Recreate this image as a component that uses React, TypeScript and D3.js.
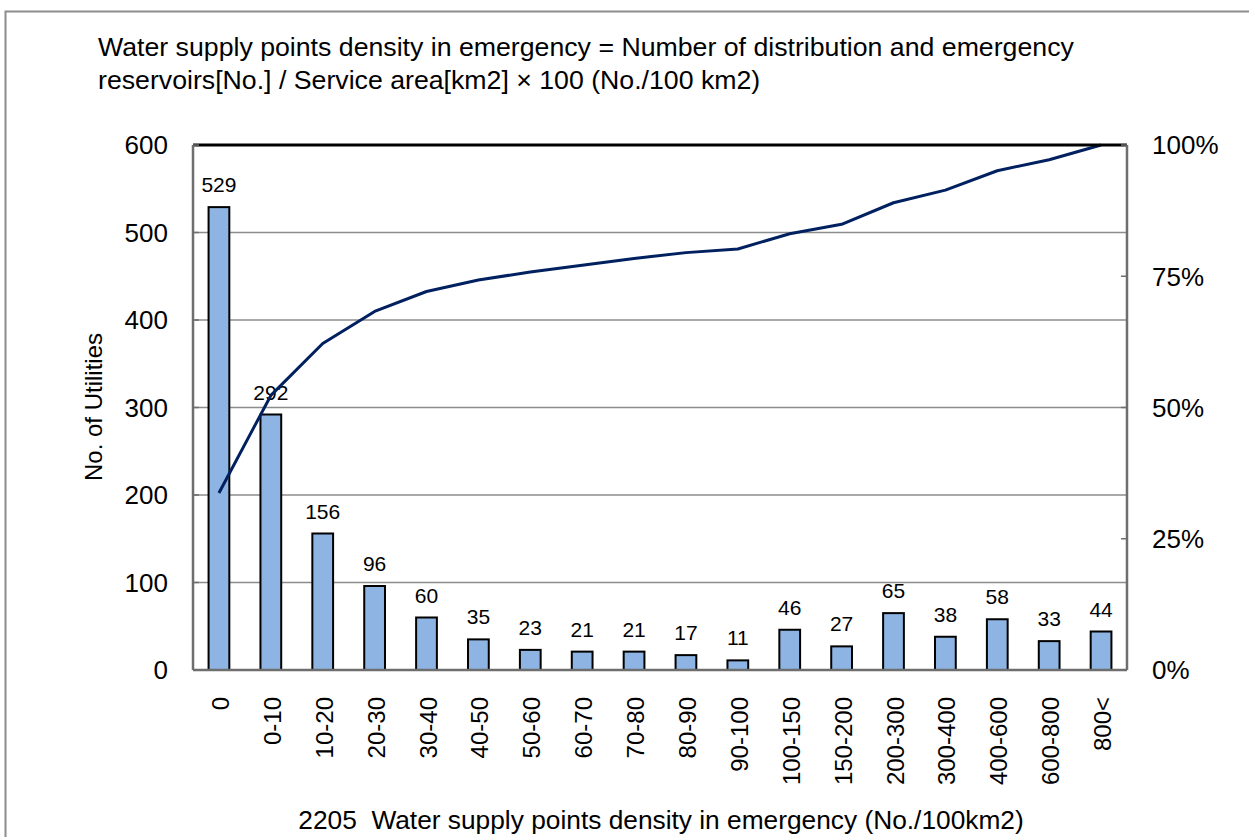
import React from "react";
import * as d3 from "d3";

// categories (density classes, No./100km2)
const categories = [
  "0", "0-10", "10-20", "20-30", "30-40", "40-50", "50-60", "60-70", "70-80",
  "80-90", "90-100", "100-150", "150-200", "200-300", "300-400", "400-600",
  "600-800", "800<",
];

// number of utilities in each class
const counts = [529, 292, 156, 96, 60, 35, 23, 21, 21, 17, 11, 46, 27, 65, 38, 58, 33, 44];

// cumulative share (%)
const cumulative = [
  33.7, 52.3, 62.2, 68.3, 72.1, 74.3, 75.8, 77.1, 78.4, 79.5, 80.2, 83.1, 84.9,
  89.0, 91.4, 95.1, 97.2, 100,
];

const leftTicks = [0, 100, 200, 300, 400, 500, 600];
const rightTicks = [0, 25, 50, 75, 100];

const titleLines = [
  "Water supply points density in emergency = Number of distribution and emergency",
  "reservoirs[No.] / Service area[km2] \u00d7 100 (No./100 km2)",
];
const yTitle = "No. of Utilities";
const xTitle = "2205\u00a0 Water supply points density in emergency (No./100km2)";

const FONT = "'Liberation Sans', Arial, sans-serif";

export default function App() {
  const width = 1249;
  const height = 837;
  const plot = { left: 193, right: 1127, top: 145, bottom: 670 };

  const x = d3
    .scaleBand<string>()
    .domain(categories)
    .range([plot.left, plot.right])
    .paddingInner(0.6)
    .paddingOuter(0.3);

  const y = d3.scaleLinear().domain([0, 600]).range([plot.bottom, plot.top]);
  const yPct = d3.scaleLinear().domain([0, 100]).range([plot.bottom, plot.top]);

  const line = d3
    .line<number>()
    .x((d, i) => (x(categories[i]) as number) + x.bandwidth() / 2)
    .y((d) => yPct(d));

  return (
    <svg
      width={width}
      height={height}
      style={{ position: "absolute", left: 0, top: 0, background: "#fff" }}
      fontFamily={FONT}
    >
      {/* outer frame */}
      <rect x={5.5} y={11.5} width={1300} height={900} fill="#fff" stroke="#8c8c8c" strokeWidth={2} />

      {/* title */}
      {titleLines.map((t, i) => (
        <text key={i} x={98} y={56 + i * 33} fontSize={26.7} fill="#000">
          {t}
        </text>
      ))}

      {/* gridlines */}
      {leftTicks
        .filter((t) => t > 0 && t < 600)
        .map((t) => (
          <line key={t} x1={plot.left} x2={plot.right} y1={y(t)} y2={y(t)} stroke="#8c8c8c" strokeWidth={1.5} />
        ))}

      {/* bars */}
      {counts.map((c, i) => (
        <rect
          key={i}
          x={x(categories[i])}
          y={y(c)}
          width={x.bandwidth()}
          height={y(0) - y(c)}
          fill="#8db4e2"
          stroke="#000"
          strokeWidth={2}
        />
      ))}

      {/* bar value labels */}
      {counts.map((c, i) => (
        <text
          key={i}
          x={(x(categories[i]) as number) + x.bandwidth() / 2}
          y={y(c) - 15}
          fontSize={21}
          textAnchor="middle"
          fill="#000"
        >
          {c}
        </text>
      ))}

      {/* cumulative line */}
      <path d={line(cumulative) || ""} fill="none" stroke="#002060" strokeWidth={3} strokeLinejoin="round" />

      {/* plot frame */}
      <line x1={plot.left} x2={plot.right} y1={plot.top} y2={plot.top} stroke="#000" strokeWidth={3} />
      <line x1={plot.left} x2={plot.left} y1={plot.top} y2={plot.bottom} stroke="#6e6e6e" strokeWidth={2.5} />
      <line x1={plot.right} x2={plot.right} y1={plot.top} y2={plot.bottom} stroke="#6e6e6e" strokeWidth={2.5} />
      <line x1={plot.left} x2={plot.right} y1={plot.bottom} y2={plot.bottom} stroke="#6e6e6e" strokeWidth={2.5} />

      {/* left axis ticks and labels */}
      {leftTicks.map((t) => (
        <g key={t}>
          <line x1={plot.left} x2={plot.left + 6} y1={y(t)} y2={y(t)} stroke="#6e6e6e" strokeWidth={1.5} />
          <text x={168} y={y(t)} dy="0.36em" fontSize={26} textAnchor="end" fill="#000">
            {t}
          </text>
        </g>
      ))}

      {/* right axis ticks and labels */}
      {rightTicks.map((t) => (
        <g key={t}>
          <line x1={plot.right - 6} x2={plot.right} y1={yPct(t)} y2={yPct(t)} stroke="#6e6e6e" strokeWidth={1.5} />
          <text x={1152} y={yPct(t)} dy="0.36em" fontSize={26} textAnchor="start" fill="#000">
            {t}%
          </text>
        </g>
      ))}

      {/* category labels */}
      {categories.map((c) => {
        const cx = (x(c) as number) + x.bandwidth() / 2;
        return (
          <text
            key={c}
            transform={`translate(${cx + 10},697) rotate(-90)`}
            fontSize={24}
            textAnchor="end"
            fill="#000"
          >
            {c}
          </text>
        );
      })}

      {/* axis titles */}
      <text transform="translate(102,407) rotate(-90)" fontSize={24} textAnchor="middle" fill="#000">
        {yTitle}
      </text>
      <text x={661} y={829} fontSize={26.3} textAnchor="middle" fill="#000">
        {xTitle}
      </text>
    </svg>
  );
}
